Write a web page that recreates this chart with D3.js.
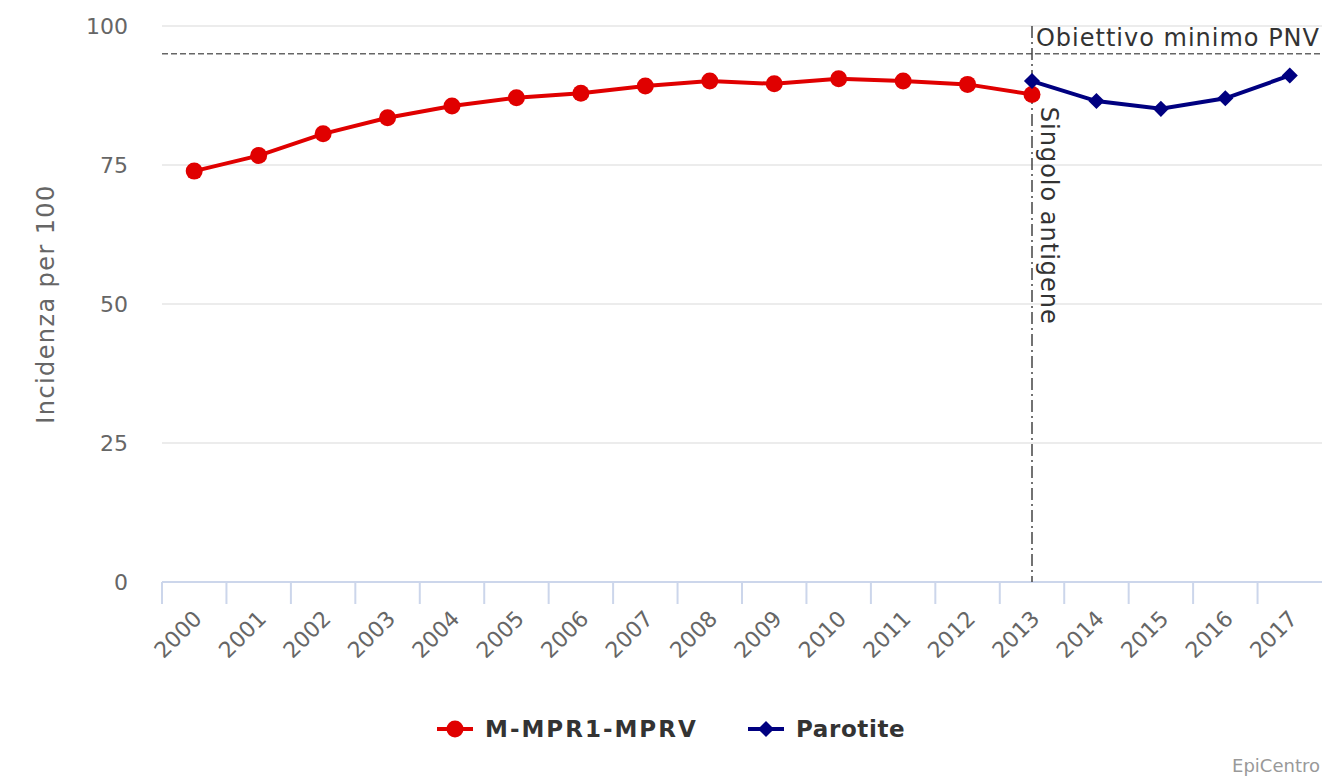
<!DOCTYPE html>
<html>
<head>
<meta charset="utf-8">
<script src="https://cdn.jsdelivr.net/npm/d3@7"></script>
<style>
  html, body { margin: 0; padding: 0; background: #fff; }
  #viz-coverage { width: 1325px; height: 777px; }
  text { font-family: "DejaVu Sans", "Lucida Grande", sans-serif; }
</style>
</head>
<body>
<div id="viz-coverage"></div>
<script>
// ---- Data ----
const years = ["2000", "2001", "2002", "2003", "2004", "2005", "2006", "2007", "2008",
  "2009", "2010", "2011", "2012", "2013", "2014", "2015", "2016", "2017"];

const mmprValues = [73.9, 76.7, 80.6, 83.5, 85.6, 87.1, 87.9, 89.2, 90.1,
  89.6, 90.5, 90.1, 89.5, 87.7, null, null, null, null];

const parotiteValues = [null, null, null, null, null, null, null, null, null,
  null, null, null, null, 90.1, 86.5, 85.1, 87.0, 91.1];

const yTicks = [0, 25, 50, 75, 100];

const targetValue = 95;          // Obiettivo minimo PNV
const switchYear = "2013";       // Singolo antigene

const seriesNames = ["M-MPR1-MPRV", "Parotite"];

const CoverageModule = (() => {

  const SELECTOR = "#viz-coverage";
  const W = 1325, H = 777;
  const margin = { top: 26, right: 3, bottom: 195, left: 162 };
  const RED = "#e00000", NAVY = "#000080";

  function render() {
    const svg = d3.select(SELECTOR).append("svg")
      .attr("width", W)
      .attr("height", H);

    const width = W - margin.left - margin.right;
    const height = H - margin.top - margin.bottom;
    const g = svg.append("g")
      .attr("transform", `translate(${margin.left},${margin.top})`);

    // ---- Scales ----
    const x = d3.scaleBand().domain(years).range([0, width]).padding(0);
    const cx = d => x(d) + x.bandwidth() / 2;
    const y = d3.scaleLinear().domain([0, 100]).range([height, 0]);

    // ---- Grid ----
    g.selectAll(".grid")
      .data(yTicks.filter(t => t > 0))
      .join("line")
      .attr("x1", 0).attr("x2", width)
      .attr("y1", d => y(d)).attr("y2", d => y(d))
      .attr("stroke", "#e6e6e6")
      .attr("stroke-width", 1.5);

    // ---- Y axis labels ----
    g.selectAll(".ylab")
      .data(yTicks)
      .join("text")
      .attr("x", -34)
      .attr("y", d => y(d) + 8)
      .attr("text-anchor", "end")
      .attr("fill", "#666")
      .attr("font-size", 22)
      .text(d => d);

    g.append("text")
      .attr("transform", `translate(${-108},${height / 2}) rotate(-90)`)
      .attr("text-anchor", "middle")
      .attr("fill", "#666")
      .attr("font-size", 24)
      .attr("letter-spacing", 1.4)
      .text("Incidenza per 100");

    // ---- X axis ----
    g.append("line")
      .attr("x1", 0).attr("x2", width)
      .attr("y1", height).attr("y2", height)
      .attr("stroke", "#ccd6eb")
      .attr("stroke-width", 2);

    g.selectAll(".xtick")
      .data(years)
      .join("line")
      .attr("x1", d => x(d)).attr("x2", d => x(d))
      .attr("y1", height).attr("y2", height + 22)
      .attr("stroke", "#ccd6eb")
      .attr("stroke-width", 2);

    g.selectAll(".xlab")
      .data(years)
      .join("text")
      .attr("transform", d => `translate(${cx(d) + 9},${height + 38}) rotate(-45)`)
      .attr("text-anchor", "end")
      .attr("fill", "#666")
      .attr("font-size", 22)
      .text(d => d);

    // ---- Plot lines ----
    g.append("line")
      .attr("x1", 0).attr("x2", width)
      .attr("y1", y(targetValue)).attr("y2", y(targetValue))
      .attr("stroke", "#666")
      .attr("stroke-width", 1.5)
      .attr("stroke-dasharray", "6,3");

    g.append("text")
      .attr("x", width - 2)
      .attr("y", y(targetValue) - 8)
      .attr("text-anchor", "end")
      .attr("fill", "#333")
      .attr("font-size", 24)
      .attr("letter-spacing", 1)
      .text("Obiettivo minimo PNV");

    g.append("line")
      .attr("x1", cx(switchYear)).attr("x2", cx(switchYear))
      .attr("y1", 0).attr("y2", height)
      .attr("stroke", "#444")
      .attr("stroke-width", 1.5)
      .attr("stroke-dasharray", "12,4,2,4");

    g.append("text")
      .attr("transform", `translate(${cx(switchYear) + 9},${y(targetValue) + 53}) rotate(90)`)
      .attr("fill", "#333")
      .attr("font-size", 24)
      .attr("letter-spacing", 1)
      .text("Singolo antigene");

    // ---- Series ----
    const line = d3.line()
      .defined(d => d.v != null)
      .x(d => cx(d.year))
      .y(d => y(d.v));

    const mmpr = years.map((yr, i) => ({ year: yr, v: mmprValues[i] }));
    const paro = years.map((yr, i) => ({ year: yr, v: parotiteValues[i] }));

    g.append("path")
      .datum(mmpr)
      .attr("fill", "none")
      .attr("stroke", RED)
      .attr("stroke-width", 4)
      .attr("d", line);

    g.selectAll(".mmpr-dot")
      .data(mmpr.filter(d => d.v != null))
      .join("circle")
      .attr("cx", d => cx(d.year))
      .attr("cy", d => y(d.v))
      .attr("r", 8.5)
      .attr("fill", RED);

    g.append("path")
      .datum(paro)
      .attr("fill", "none")
      .attr("stroke", NAVY)
      .attr("stroke-width", 4)
      .attr("d", line);

    const diamond = d3.symbol(d3.symbolSquare, 130);
    g.selectAll(".paro-dot")
      .data(paro.filter(d => d.v != null))
      .join("path")
      .attr("transform", d => `translate(${cx(d.year)},${y(d.v)}) rotate(45)`)
      .attr("d", diamond)
      .attr("fill", NAVY);

    // ---- Legend ----
    const legendItems = [
      { name: seriesNames[0], color: RED, x: 437, shape: "circle", ls: 2 },
      { name: seriesNames[1], color: NAVY, x: 748, shape: "diamond", ls: 0.6 }
    ];
    const legY = 729;
    const items = svg.selectAll(".legend")
      .data(legendItems)
      .join("g")
      .attr("transform", d => `translate(${d.x},${legY})`);

    items.append("line")
      .attr("x1", 0).attr("x2", 36)
      .attr("stroke", d => d.color)
      .attr("stroke-width", 4);

    items.filter(d => d.shape === "circle").append("circle")
      .attr("cx", 18).attr("r", 8.5)
      .attr("fill", d => d.color);

    items.filter(d => d.shape === "diamond").append("path")
      .attr("transform", "translate(18,0) rotate(45)")
      .attr("d", diamond)
      .attr("fill", d => d.color);

    items.append("text")
      .attr("x", 48)
      .attr("y", 8)
      .attr("fill", "#333")
      .attr("font-size", 23)
      .attr("font-weight", "bold")
      .attr("letter-spacing", d => d.ls)
      .text(d => d.name);

    // ---- Credits ----
    svg.append("text")
      .attr("x", 1320)
      .attr("y", 772)
      .attr("text-anchor", "end")
      .attr("fill", "#999")
      .attr("font-size", 18)
      .text("EpiCentro");
  }

  return { render };

})();

CoverageModule.render();
</script>
</body>
</html>
